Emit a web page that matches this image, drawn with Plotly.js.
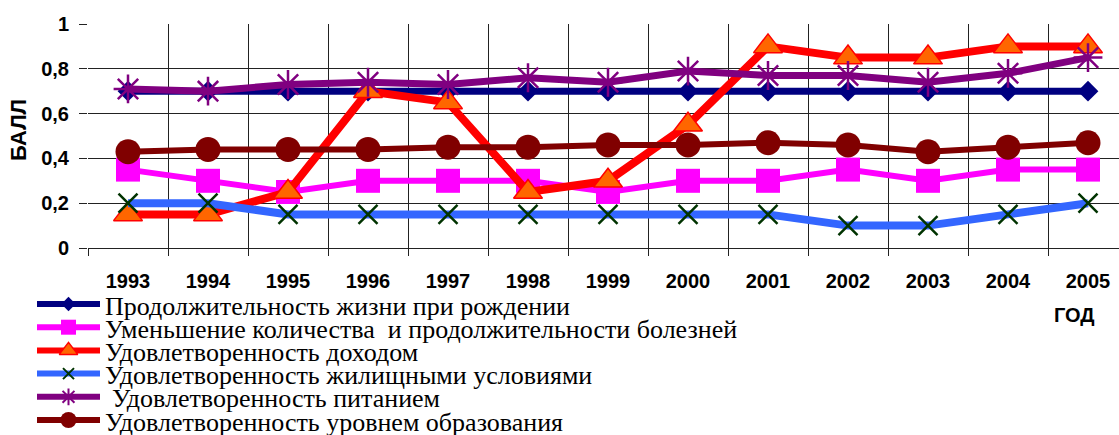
<!DOCTYPE html>
<html>
<head>
<meta charset="utf-8">
<script src="https://cdn.plot.ly/plotly-3.0.1.min.js"></script>
<style>html,body{margin:0;padding:0;background:#fff;overflow:hidden}#chart{width:1119px;height:435px}</style>
</head>
<body>
<div id="chart"></div>
<script>
const years = ['1993','1994','1995','1996','1997','1998','1999','2000','2001','2002','2003','2004','2005'];
const seriesNames = [
  'Продолжительность жизни при рождении',
  'Уменьшение количества  и продолжительности болезней',
  'Удовлетворенность доходом',
  'Удовлетворенность жилищными условиями',
  'Удовлетворенность питанием',
  'Удовлетворенность уровнем образования'
];
const lifeExpectancy = [0.70,0.70,0.70,0.70,0.70,0.70,0.70,0.70,0.70,0.70,0.70,0.70,0.70];
const lessIllness    = [0.35,0.30,0.25,0.30,0.30,0.30,0.25,0.30,0.30,0.35,0.30,0.35,0.35];
const income         = [0.15,0.15,0.25,0.70,0.65,0.25,0.30,0.55,0.90,0.85,0.85,0.90,0.90];
const housing        = [0.20,0.20,0.15,0.15,0.15,0.15,0.15,0.15,0.15,0.10,0.10,0.15,0.20];
const nutrition      = [0.71,0.70,0.73,0.74,0.73,0.76,0.74,0.79,0.77,0.77,0.74,0.78,0.85];
const education      = [0.43,0.44,0.44,0.44,0.45,0.45,0.46,0.46,0.47,0.46,0.43,0.45,0.47];
const yTickVals = [0,0.2,0.4,0.6,0.8,1];

const allSeries = [lifeExpectancy, lessIllness, income, housing, nutrition, education];
const styles = [
  {line:{color:'#000080',width:7}, marker:{symbol:'diamond',size:16,color:'#000080'}, lm:{size:11}},
  {line:{color:'#FF00FF',width:6}, marker:{symbol:'square',size:24,color:'#FF00FF'}, lm:{size:15}},
  {line:{color:'#FF0000',width:8}, marker:{symbol:'triangle-up',size:25,color:'#FF6600',line:{color:'#FF0000',width:1.5}}, lm:{size:16}},
  {line:{color:'#3366FF',width:8}, marker:{symbol:'x-thin-open',size:19,color:'#003300',line:{width:2.5}}, lm:{size:11}},
  {line:{color:'#800080',width:7}, marker:{symbol:'asterisk-open',size:24,color:'#800080',line:{width:2.5}}, lm:{size:14}},
  {line:{color:'#800000',width:6}, marker:{symbol:'circle',size:25,color:'#800000'}, lm:{size:16}}
];

const W = 1119, H = 435;
const plotL = 88, plotT = 24, plotB = 248;
const traces = [];
allSeries.forEach((vals, i) => {
  traces.push({
    x: years, y: vals, type: 'scatter', mode: 'lines+markers', name: seriesNames[i],
    line: styles[i].line, marker: styles[i].marker, cliponaxis: false, showlegend: false,
    xaxis: 'x', yaxis: 'y'
  });
});

// custom legend on a pixel-mapped hidden subplot
const legTop = 304, legStep = 23.2, keyX0 = 37, keyX1 = 100, textX = 103;
const annotations = [];
allSeries.forEach((vals, i) => {
  const ry = legTop + legStep * i;
  traces.push({x:[keyX0,keyX1], y:[ry,ry], type:'scatter', mode:'lines', line:{color:styles[i].line.color,width:6},
    xaxis:'x2', yaxis:'y2', showlegend:false, hoverinfo:'skip', cliponaxis:false});
  const m = JSON.parse(JSON.stringify(styles[i].marker));
  m.size = styles[i].lm.size;
  if (m.line && m.line.width) m.line.width = Math.min(m.line.width, 2);
  traces.push({x:[(keyX0+keyX1)/2], y:[ry], type:'scatter', mode:'markers', marker:m,
    xaxis:'x2', yaxis:'y2', showlegend:false, hoverinfo:'skip', cliponaxis:false});
  annotations.push({xref:'x2', yref:'y2', x: textX + (i===4 ? 7 : 0), y: ry + 2, xanchor:'left', yanchor:'middle',
    text: seriesNames[i], showarrow:false, font:{family:'Liberation Serif, Times New Roman, serif', size:26, color:'#000'}});
});

annotations.push({xref:'x2', yref:'y2', x:1074, y:315, xanchor:'center', yanchor:'middle', text:'ГОД', showarrow:false,
  font:{family:'Liberation Sans, Arial, sans-serif', size:20, color:'#000', weight:'bold'}});
annotations.push({xref:'x2', yref:'y2', x:18, y:130, xanchor:'center', yanchor:'middle', text:'БАЛЛ', textangle:-90, showarrow:false,
  font:{family:'Liberation Sans, Arial, sans-serif', size:22, color:'#000', weight:'bold'}});

const tickFont = {family:'Liberation Sans, Arial, sans-serif', size:20, color:'#000', weight:'bold'};
const layout = {
  width: W, height: H,
  margin: {l:0, r:0, t:0, b:0, pad:0},
  paper_bgcolor: '#fff', plot_bgcolor: 'rgba(0,0,0,0)',
  separators: ', ',
  showlegend: false,
  xaxis: {
    type: 'category', domain: [plotL / W, 1], range: [-0.5, 12.5 - (plotL + 13*80 - W) / 80],
    tickson: 'boundaries', ticks: 'outside', ticklen: 7, tickcolor: '#222', tickwidth: 1,
    showgrid: true, gridcolor: '#222', gridwidth: 1, showline: false, zeroline: false,
    tickfont: tickFont, ticklabelstandoff: 19, anchor: 'y', fixedrange: true
  },
  yaxis: {
    domain: [(H - plotB) / H, (H - plotT) / H], range: [0, 1],
    tickvals: yTickVals, ticks: 'outside', ticklen: 8, tickcolor: '#222', tickwidth: 1,
    showgrid: true, gridcolor: '#222', gridwidth: 1, zeroline: true, zerolinecolor: '#222', zerolinewidth: 1,
    showline: false, tickfont: tickFont, ticklabelstandoff: 6, anchor: 'x', fixedrange: true
  },
  xaxis2: {domain:[0,1], range:[0,W], visible:false, anchor:'y2', fixedrange:true},
  yaxis2: {domain:[0,1], range:[H,0], visible:false, anchor:'x2', fixedrange:true},
  annotations: annotations
};
Plotly.newPlot('chart', traces, layout, {displayModeBar:false, staticPlot:true});
</script>
</body>
</html>
